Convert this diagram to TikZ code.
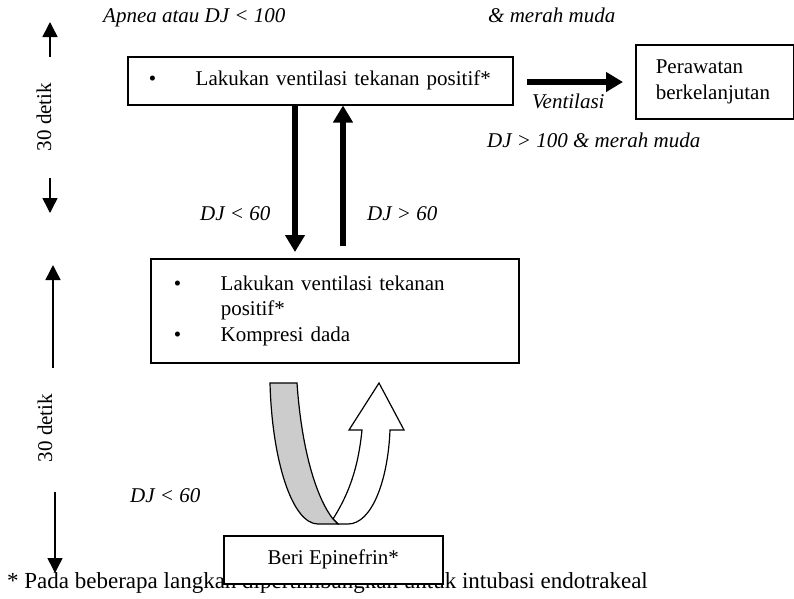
\documentclass[tikz,border=0pt]{standalone}
\usepackage{fontspec}
\setmainfont{Liberation Serif}
\usetikzlibrary{arrows.meta}
\begin{document}
\begin{tikzpicture}[x=1pt, y=-1pt, every node/.style={font=\fontsize{21}{25.5}\selectfont, inner sep=0pt}, box/.style={draw, line width=1.5pt, fill=white, align=left}, lbl/.style={font=\fontsize{21}{25}\selectfont\itshape, anchor=base west}, tline/.style={line width=1.5pt, -{Triangle[length=15pt,width=15pt]}}, fat/.style={line width=6pt, -{Triangle[length=17pt,width=19pt]}}, sec/.style={rotate=90}]
	\useasboundingbox (0,0) rectangle (794,598);
	\node[anchor=base west, font=\fontsize{23}{27}\selectfont] (note) at (7,588) {* Pada beberapa langkah dipertimbangkan untuk intubasi endotrakeal};
	\node[box, anchor=north west, inner xsep=21pt, text width=343pt, minimum height=48pt] (ppv) at (127,56) {\mbox{\makebox[47pt][l]{\textbullet}Lakukan ventilasi tekanan positif*}};
	\node[box, anchor=north west, inner xsep=20pt, text width=118pt, minimum height=74pt] (care) at (635,44) {Perawatan\\berkelanjutan};
	\node[box, anchor=north west, inner xsep=23pt, text width=322pt, minimum height=104pt] (cpr) at (150,258) {\begin{tabular}{@{}p{47pt}@{}l@{}}\textbullet & Lakukan ventilasi tekanan\\ & positif*\\ \textbullet & Kompresi dada\end{tabular}};
	\node[box, anchor=north west, minimum width=219pt, minimum height=48pt, align=center] (epi) at (223,535) {Beri Epinefrin*};
	\node[lbl] (apnea) at (103,22) {Apnea atau DJ < 100};
	\node[lbl] (pink) at (488,22) {\& merah muda};
	\node[lbl] (vent) at (532,108) {Ventilasi};
	\node[lbl] (ok) at (487,147) {DJ > 100 \& merah muda};
	\node[lbl] (lowA) at (200,220) {DJ < 60};
	\node[lbl] (highA) at (367,220) {DJ > 60};
	\node[lbl] (lowB) at (130,502) {DJ < 60};
	\node[sec] (secA) at (44,117) {30 detik};
	\node[sec] (secB) at (45,428) {30 detik};
	\coordinate (t1) at (50,57); \coordinate (t2) at (50,22);
	\coordinate (t3) at (50,178); \coordinate (t4) at (50,213);
	\coordinate (t5) at (53,368); \coordinate (t6) at (53,265);
	\coordinate (t7) at (55,492); \coordinate (t8) at (55,573);
	\foreach \a/\b in {t1/t2, t3/t4, t5/t6, t7/t8} {\draw[tline] (\a) -- (\b);}
	\coordinate (dn) at (295,0);
	\coordinate (up) at (343,0);
	\coordinate (vs) at (527,82);
	\draw[fat, shorten >=6pt] (ppv.south -| dn) -- (cpr.north -| dn);
	\draw[fat, shorten <=12pt] (cpr.north -| up) -- (ppv.south -| up);
	\draw[fat, shorten >=12pt] (vs) -- (vs -| care.west);
	\draw[line width=1.2pt, fill=white] (333,519) .. controls (348,495) and (358,470) .. (362,430) -- (349,430) -- (379,383) -- (404,430) -- (390,430) .. controls (388,480) and (372,524) .. (348,524) -- (338,524) -- cycle;
	\draw[line width=1.2pt, fill=black!20] (270,383) -- (297,383) .. controls (302,455) and (318,500) .. (333,519) -- (338,524) -- (318,524) .. controls (292,524) and (272,460) .. (270,383) -- cycle;
	\end{tikzpicture}
\end{document}
